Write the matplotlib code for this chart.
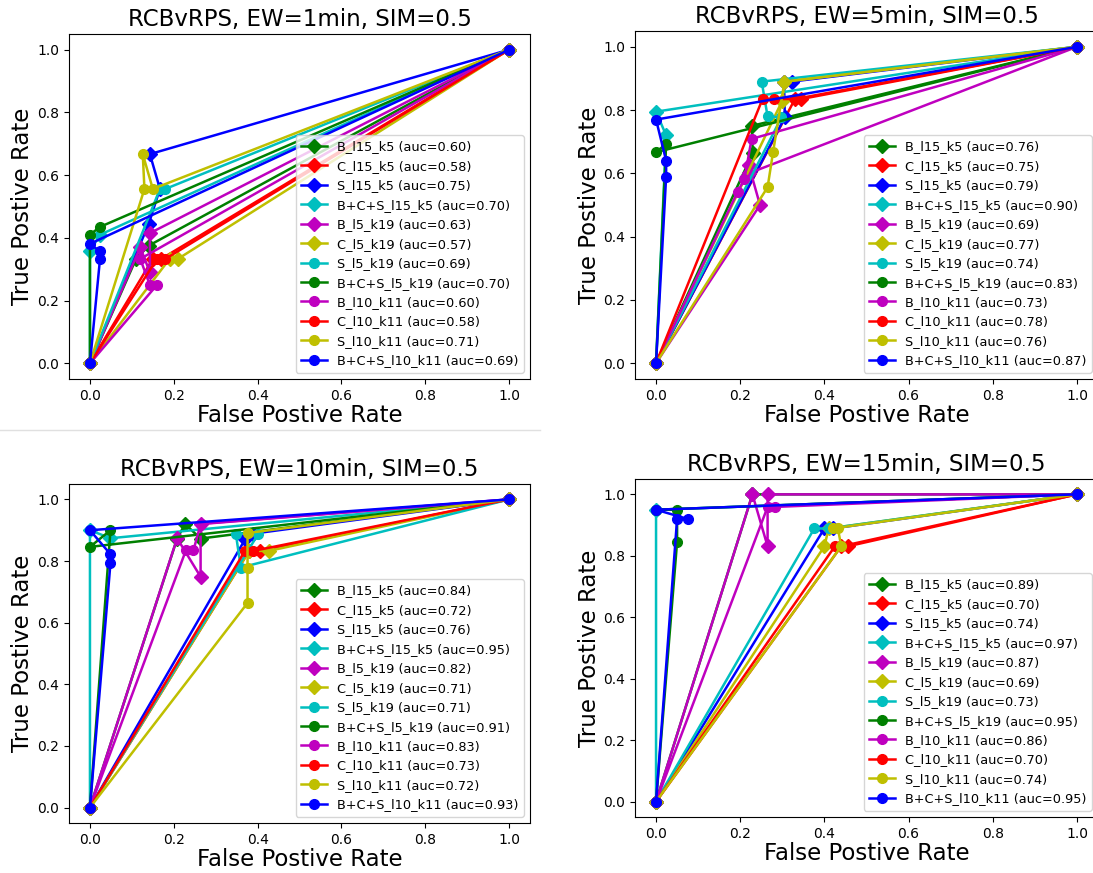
import matplotlib
matplotlib.use('Agg')
from matplotlib import pyplot as plt
from matplotlib.lines import Line2D

names = ['B_l15_k5', 'C_l15_k5', 'S_l15_k5', 'B+C+S_l15_k5',
         'B_l5_k19', 'C_l5_k19', 'S_l5_k19', 'B+C+S_l5_k19',
         'B_l10_k11', 'C_l10_k11', 'S_l10_k11', 'B+C+S_l10_k11']
colors = ['g', 'r', 'b', 'c', 'm', 'y', 'c', 'g', 'm', 'r', 'y', 'b']
markers = ['D'] * 6 + ['o'] * 6

# EW=1min
auc_1 = [0.60, 0.58, 0.75, 0.70, 0.63, 0.57, 0.69, 0.70, 0.60, 0.58, 0.71, 0.69]
fpr_1 = [[0, 0.11, 0.14, 1], [0, 0.15, 0.17, 1], [0, 0.14, 0.167, 0.143, 1],
         [0, 0, 0.024, 1], [0, 0.12, 0.143, 0.143, 1], [0, 0.19, 0.21, 1],
         [0, 0.167, 0.18, 1], [0, 0, 0.024, 1], [0, 0.16, 0.143, 0.12, 1],
         [0, 0.16, 0.18, 1], [0, 0.13, 0.126, 0.15, 1], [0, 0.024, 0.024, 0, 1]]
tpr_1 = [[0, 0.333, 0.375, 1], [0, 0.333, 0.333, 1], [0, 0.444, 0.556, 0.667, 1],
         [0, 0.357, 0.41, 1], [0, 0.37, 0.29, 0.415, 1], [0, 0.333, 0.333, 1],
         [0, 0.556, 0.556, 1], [0, 0.41, 0.435, 1], [0, 0.25, 0.25, 0.333, 1],
         [0, 0.333, 0.333, 1], [0, 0.556, 0.667, 0.556, 1], [0, 0.333, 0.357, 0.381, 1]]

# EW=5min
auc_5 = [0.76, 0.75, 0.79, 0.90, 0.69, 0.77, 0.74, 0.83, 0.73, 0.78, 0.76, 0.87]
fpr_5 = [[0, 0.23, 0.227, 1], [0, 0.33, 0.345, 1], [0, 0.306, 0.304, 0.322, 1],
         [0, 0.024, 0, 1], [0, 0.247, 0.22, 0.22, 1], [0, 0.3, 0.305, 1],
         [0, 0.298, 0.265, 0.251, 1], [0, 0.024, 0, 1], [0, 0.194, 0.21, 0.227, 1],
         [0, 0.253, 0.28, 0.33, 1], [0, 0.265, 0.278, 0.305, 1], [0, 0.024, 0.024, 0, 1]]
tpr_5 = [[0, 0.665, 0.75, 1], [0, 0.835, 0.835, 1], [0, 0.777, 0.89, 0.89, 1],
         [0, 0.72, 0.795, 1], [0, 0.5, 0.627, 0.6, 1], [0, 0.83, 0.89, 1],
         [0, 0.777, 0.78, 0.89, 1], [0, 0.693, 0.667, 1], [0, 0.542, 0.582, 0.709, 1],
         [0, 0.835, 0.835, 0.835, 1], [0, 0.556, 0.667, 0.89, 1], [0, 0.59, 0.64, 0.77, 1]]

# EW=10min
auc_10 = [0.84, 0.72, 0.76, 0.95, 0.82, 0.71, 0.71, 0.91, 0.83, 0.73, 0.72, 0.93]
fpr_10 = [[0, 0.208, 0.227, 0.264, 1], [0, 0.38, 0.405, 1], [0, 0.37, 0.39, 1],
          [0, 0, 0.049, 1], [0, 0.208, 0.264, 0.264, 1], [0, 0.38, 0.427, 1],
          [0, 0.402, 0.348, 0.36, 1], [0, 0.049, 0, 1], [0, 0.229, 0.247, 0.264, 1],
          [0, 0.37, 0.39, 1], [0, 0.376, 0.376, 0.376, 1], [0, 0.049, 0.049, 0, 1]]
tpr_10 = [[0, 0.873, 0.92, 0.873, 1], [0, 0.833, 0.833, 1], [0, 0.87, 0.889, 1],
          [0, 0.9, 0.874, 1], [0, 0.874, 0.749, 0.921, 1], [0, 0.833, 0.833, 1],
          [0, 0.889, 0.889, 0.779, 1], [0, 0.9, 0.846, 1], [0, 0.835, 0.835, 0.92, 1],
          [0, 0.833, 0.833, 1], [0, 0.664, 0.779, 0.891, 1], [0, 0.794, 0.822, 0.9, 1]]

# EW=15min
auc_15 = [0.89, 0.70, 0.74, 0.97, 0.87, 0.69, 0.73, 0.95, 0.86, 0.70, 0.74, 0.95]
fpr_15 = [[0, 0.229, 1], [0, 0.44, 0.456, 1], [0, 0.4, 0.42, 1],
          [0, 0, 1], [0, 0.229, 0.265, 0.265, 1], [0, 0.4, 0.41, 1],
          [0, 0.376, 0.41, 1], [0, 0.05, 0.05, 0, 1], [0, 0.265, 0.282, 1],
          [0, 0.425, 0.44, 1], [0, 0.44, 0.432, 0.42, 1], [0, 0.05, 0.075, 0, 1]]
tpr_15 = [[0, 1.0, 1], [0, 0.831, 0.831, 1], [0, 0.889, 0.889, 1],
          [0, 0.95, 1], [0, 1.0, 0.831, 1.0, 1], [0, 0.831, 0.889, 1],
          [0, 0.889, 0.889, 1], [0, 0.845, 0.95, 0.95, 1], [0, 0.959, 0.959, 1],
          [0, 0.831, 0.831, 1], [0, 0.831, 0.889, 0.889, 1], [0, 0.92, 0.92, 0.95, 1]]

W, H = 1093, 873
fig = plt.figure(figsize=(W / 100, H / 100), dpi=100)


def box(left, top, right, bottom):
    return [left / W, 1 - bottom / H, (right - left) / W, (bottom - top) / H]


def doRoc(rect, title, fprs, tprs, aucs):
    ax = fig.add_axes(rect)
    for i in range(len(names)):
        ax.plot(fprs[i], tprs[i], color=colors[i], marker=markers[i], lw=1.8, ms=7,
                label='%s (auc=%.2f)' % (names[i], aucs[i]))
    ax.set_title(title, fontsize=16.5)
    ax.set_xlabel('False Postive Rate', fontsize=16.5, labelpad=1)
    ax.set_ylabel('True Postive Rate', fontsize=16.5, labelpad=2)
    ax.legend(loc='lower right', fontsize=9.3)
    return ax


doRoc(box(69, 34, 530, 379), 'RCBvRPS, EW=1min, SIM=0.5', fpr_1, tpr_1, auc_1)
doRoc(box(635, 31, 1098, 379), 'RCBvRPS, EW=5min, SIM=0.5', fpr_5, tpr_5, auc_5)
doRoc(box(69, 484, 530, 823), 'RCBvRPS, EW=10min, SIM=0.5', fpr_10, tpr_10, auc_10)
doRoc(box(635, 479, 1098, 817), 'RCBvRPS, EW=15min, SIM=0.5', fpr_15, tpr_15, auc_15)

fig.add_artist(Line2D([0, 540 / W], [1 - 430 / H, 1 - 430 / H], color='#e0e0e0', lw=1))

fig.savefig('out.png', dpi=100)
